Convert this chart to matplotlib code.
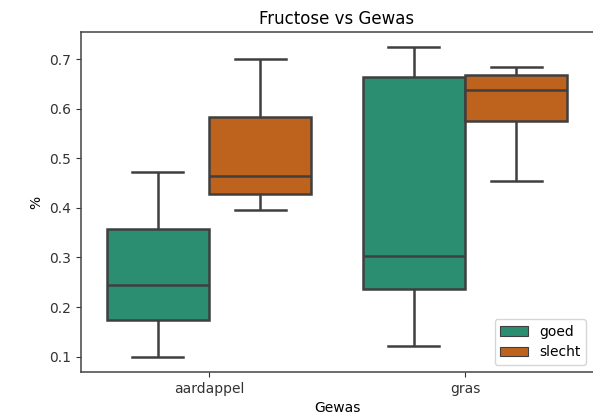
import pandas as pd
import seaborn as sns
import matplotlib
matplotlib.use("Agg")
import matplotlib.pyplot as plt

# Five readings per group (min, Q1, median, Q3, max)
aardappel_goed = [0.10, 0.173, 0.245, 0.357, 0.472]
aardappel_slecht = [0.395, 0.429, 0.464, 0.584, 0.70]
gras_goed = [0.122, 0.236, 0.303, 0.664, 0.724]
gras_slecht = [0.454, 0.576, 0.638, 0.668, 0.684]

gewas = ["aardappel", "gras"]
kwaliteit = ["goed", "slecht"]

# Build long table
rows = []
for g, k, vals in [("aardappel", "goed", aardappel_goed),
                   ("aardappel", "slecht", aardappel_slecht),
                   ("gras", "goed", gras_goed),
                   ("gras", "slecht", gras_slecht)]:
    for v in vals:
        rows.append({"Gewas": g, "kwaliteit": k, "%": v})
df = pd.DataFrame(rows)

fig = plt.figure(figsize=(5.93, 4.2), dpi=100)
ax = fig.add_axes([0.1366, 0.1143, 0.8634, 0.8095])

sns.boxplot(data=df, x="Gewas", y="%", hue="kwaliteit",
            order=gewas, hue_order=kwaliteit, palette="Dark2",
            linecolor="#3f3f3f", linewidth=1.8, ax=ax)

for s in ax.spines.values():
    s.set_color("#444444")
    s.set_linewidth(1.1)
ax.spines["right"].set_visible(False)  # cropped off in the original
ax.tick_params(colors="#333333")

ax.set_title("Fructose vs Gewas")
ax.set_xlabel("Gewas")
ax.set_ylabel("%")
leg = ax.legend(loc="lower right", title=None)
for h in leg.get_patches():
    h.set_linewidth(0.8)

plt.savefig("out.png", dpi=100)
